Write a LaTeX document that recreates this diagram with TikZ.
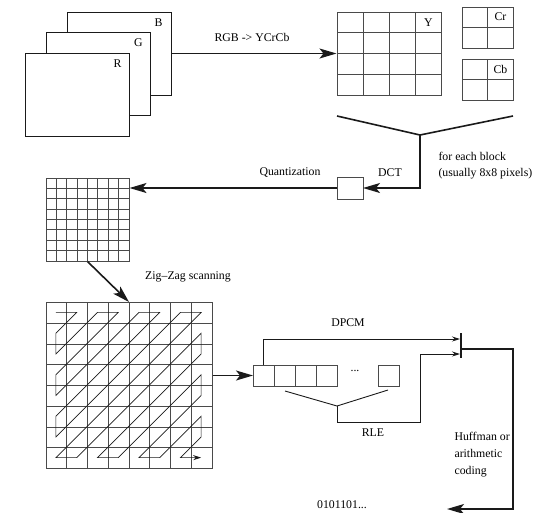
\documentclass[tikz,border=0pt]{standalone}
\usepackage{fontspec}
\setmainfont{Liberation Serif}
\usetikzlibrary{arrows.meta,calc,positioning}
\definecolor{ScanInk}{HTML}{1A1A1A}
\definecolor{ScanGrid}{HTML}{4A4A4A}

\begin{document}
\begin{tikzpicture}[
  x=1pt, y=-1pt,
  font=\fontsize{11.8}{16}\selectfont,
  plane/.style={
    draw=ScanInk,
    fill=white,
    line width=0.9pt,
    minimum width=104pt,
    minimum height=83pt,
    inner sep=0pt
  },
  cellgrid/.style={
    draw=ScanGrid,
    line width=1pt,
    inner sep=0pt,
    path picture={
      \foreach \k in {1,...,#1} {
        \draw[ScanGrid, line width=1pt]
          ($(path picture bounding box.north west)!\k/#1!(path picture bounding box.north east)$) --
          ($(path picture bounding box.south west)!\k/#1!(path picture bounding box.south east)$);
        \draw[ScanGrid, line width=1pt]
          ($(path picture bounding box.north west)!\k/#1!(path picture bounding box.south west)$) --
          ($(path picture bounding box.north east)!\k/#1!(path picture bounding box.south east)$);
      }
    }
  },
  cellbox/.style={draw=ScanGrid, line width=1pt, minimum size=21pt, inner sep=0pt, outer sep=0pt},
  flowarrow/.style={-{Stealth[length=17pt,width=10pt,inset=4pt]}, line width=1.6pt, draw=ScanInk},
  tinyarrow/.style={-{Stealth[length=8pt,width=5pt]}, line width=0.9pt, draw=ScanInk},
  zigline/.style={-{Stealth[length=8pt,width=5pt]}, line width=0.7pt, draw=ScanInk},
  bracketline/.style={line width=1.6pt, draw=ScanInk},
  thinline/.style={line width=0.9pt, draw=ScanInk}
]
\useasboundingbox (0,0) rectangle (537,512);
% colour planes
\node[plane] (planeB) at (119,53.5) {};
\node[plane] (planeG) at (98,74) {};
\node[plane] (planeR) at (77,94.5) {};
\node (tagB) at ([shift={(-13,11)}]planeB.north east) {B};
\node (tagG) at ([shift={(-12,11)}]planeG.north east) {G};
\node (tagR) at ([shift={(-12,11)}]planeR.north east) {R};
% luma and chroma blocks
\node[cellgrid=4, minimum width=104pt, minimum height=83pt] (lumaY) at (389,53.5) {};
\node (tagY) at ([shift={(-13,11)}]lumaY.north east) {Y};
\node[cellgrid=2, minimum width=51pt, minimum height=41pt] (chromaR) at (487.5,27.5) {};
\node (tagCr) at ([shift={(-13,10)}]chromaR.north east) {Cr};
\node[cellgrid=2, minimum width=51pt, minimum height=41pt] (chromaB) at (487.5,79.5) {};
\node (tagCb) at ([shift={(-13,11)}]chromaB.north east) {Cb};
\draw[flowarrow] (planeB.east) -- (planeB.east -| lumaY.west);
\node (convTag) at (252,37) {RGB -> YCrCb};
% block split and DCT
\coordinate (splitL) at (337,116);
\coordinate (splitV) at (420,135);
\coordinate (splitR) at (513,116);
\draw[bracketline] (splitL) -- (splitV) -- (splitR);
\node[cellbox, minimum width=26pt, minimum height=22pt] (dctBox) at (350,188) {};
\draw[flowarrow] (splitV) |- (dctBox.east);
\node (dctTag) at (390,173) {DCT};
\node[align=left, anchor=west] (blockTag) at (435,166) {for each block\\(usually 8x8 pixels)};
% quantization
\node[cellgrid=8, minimum size=83pt] (quantGrid) at (87.5,219.5) {};
\draw[flowarrow] (dctBox.west) -- (dctBox.west -| quantGrid.east);
\node (quantTag) at (290,173) {Quantization};
% zig-zag scan
\node[cellgrid=8, minimum size=166pt] (scanGrid) at (129,385.5) {};
\draw[flowarrow] (quantGrid.south) -- (scanGrid.north);
\node (scanTag) at (188,277) {Zig--Zag scanning};
\begin{scope}[shift={(scanGrid.north west)}, x=20.75pt, y=-20.75pt]
  \draw[zigline] (0.5,0.5) foreach \i/\j in {1/0,0/1,0/2,2/0,3/0,0/3,0/4,4/0,5/0,0/5,0/6,6/0,7/0,0/7,1/7,7/1,7/2,2/7,3/7,7/3,7/4,4/7,5/7,7/5,7/6,6/7,7/7} { -- (\i+0.5,\j+0.5) };
\end{scope}
% coefficient sequence
\foreach \k in {1,...,4}
  \node[cellbox] (buf\k) at (242.5+21*\k,375.5) {};
\node (bufDots) at (355,371) {...};
\node[cellbox] (bufLast) at (388.5,375.5) {};
\draw[flowarrow] (scanGrid.east |- buf1.west) -- (buf1.west);
% DPCM / RLE merge
\node[fill=ScanInk, minimum width=2.2pt, minimum height=25pt, inner sep=0pt] (mergeBar) at (461,345.5) {};
\coordinate (dpcmIn) at (460,339);
\coordinate (rleIn) at (460,354);
\draw[tinyarrow] (buf1.north) |- (dpcmIn);
\node (dpcmTag) at (348,323) {DPCM};
\coordinate (rleL) at (285,391);
\coordinate (rleV) at (337,406);
\coordinate (rleR) at (388,390);
\draw[thinline] (rleL) -- (rleV) -- (rleR);
\coordinate (rleTurn) at (420,422);
\draw[tinyarrow] (rleV) |- (rleTurn) |- (rleIn);
\node (rleTag) at (373,433) {RLE};
% entropy coding
\coordinate (codeTurn) at (513,349);
\coordinate (codeEnd) at (447,509);
\draw[flowarrow] (mergeBar.east |- codeTurn) -- (codeTurn) |- (codeEnd);
\node[align=left, anchor=west, font=\fontsize{11.8}{17}\selectfont] (codeTag) at (451,455) {Huffman or\\arithmetic\\coding};
\node (bitsTag) at (342,505) {0101101...};
\end{tikzpicture}
\end{document}
